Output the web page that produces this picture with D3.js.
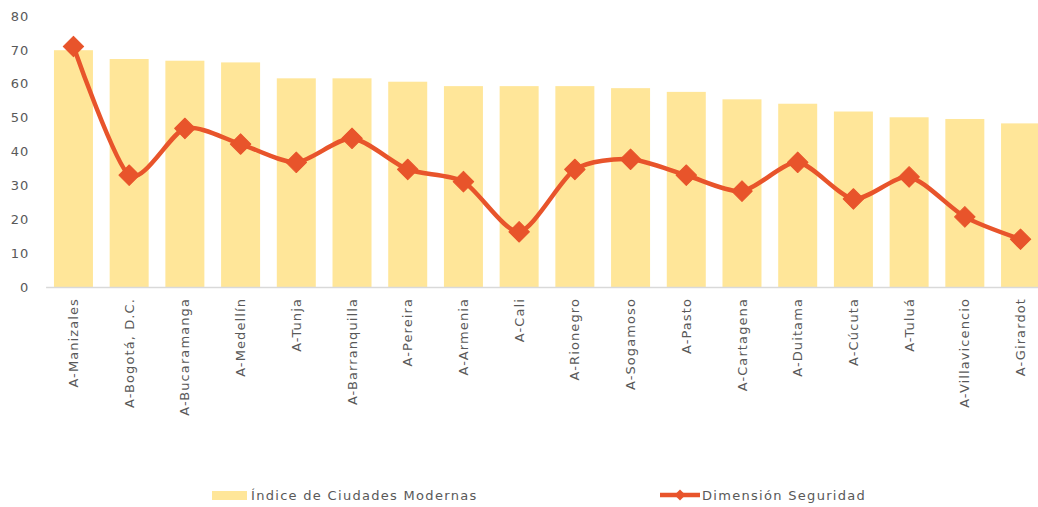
<!DOCTYPE html>
<html>
<head>
<meta charset="utf-8">
<script src="https://cdn.jsdelivr.net/npm/d3@7"></script>
<style>
  html, body { margin: 0; padding: 0; background: #fff; }
  svg { display: block; font-family: "DejaVu Sans", Verdana, sans-serif; }
</style>
</head>
<body>
<svg id="chart" width="1038" height="507"></svg>
<script>
const categories = ["A-Manizales", "A-Bogotá, D.C.", "A-Bucaramanga", "A-Medellín", "A-Tunja", "A-Barranquilla", "A-Pereira", "A-Armenia", "A-Cali", "A-Rionegro", "A-Sogamoso", "A-Pasto", "A-Cartagena", "A-Duitama", "A-Cúcuta", "A-Tuluá", "A-Villavicencio", "A-Girardot"];
const indiceCiudades = [69.9, 67.3, 66.8, 66.3, 61.6, 61.6, 60.6, 59.3, 59.3, 59.3, 58.7, 57.6, 55.4, 54.1, 51.8, 50.1, 49.6, 48.3];
const dimensionSeguridad = [71.0, 33.0, 46.8, 42.2, 36.8, 43.9, 34.7, 31.1, 16.3, 34.7, 37.7, 33.0, 28.3, 36.8, 26.0, 32.5, 20.7, 14.1];
const yTicks = [0, 10, 20, 30, 40, 50, 60, 70, 80];
const seriesNames = ["Índice de Ciudades Modernas", "Dimensión Seguridad"];

const barColor = "#FFE699";
const lineColor = "#E8542B";
const textColor = "#595959";

const svg = d3.select("#chart");

const x = d3.scaleBand().domain(categories).range([45.6, 1048.4]).paddingInner(0.3).paddingOuter(0.15);
const y = d3.scaleLinear().domain([0, 80]).range([287, 16]);

// bars
svg.append("g").selectAll("rect").data(categories).join("rect")
  .attr("x", d => x(d))
  .attr("width", x.bandwidth())
  .attr("y", (d, i) => y(indiceCiudades[i]))
  .attr("height", (d, i) => y(0) - y(indiceCiudades[i]))
  .attr("fill", barColor);

// y axis (labels only)
const yAxis = d3.axisLeft(y).tickValues(yTicks).tickSize(0).tickPadding(0);
const gy = svg.append("g").attr("transform", "translate(29,0)").call(yAxis);
gy.select(".domain").remove();
gy.selectAll("text").attr("fill", textColor).style("font-size", "13px")
  .style("font-family", "DejaVu Sans, sans-serif").style("letter-spacing", "0.8px");

// x axis
const xAxis = d3.axisBottom(x).tickSize(0).tickPadding(0);
const gx = svg.append("g").attr("transform", `translate(0,${y(0)})`).call(xAxis);
gx.select(".domain").attr("stroke", "#D9D9D9").attr("stroke-width", 1.3);
gx.selectAll(".tick text")
  .attr("fill", textColor)
  .style("font-size", "13px")
  .style("font-family", "DejaVu Sans, sans-serif")
  .style("letter-spacing", "1.1px")
  .attr("text-anchor", "end")
  .attr("transform", "rotate(-90)")
  .attr("x", -11)
  .attr("y", 0)
  .attr("dy", "0.35em");

// line
const cx = d => x(d) + x.bandwidth() / 2;
const line = d3.line()
  .x((d, i) => cx(categories[i]))
  .y(d => y(d))
  .curve(d3.curveCardinal.tension(0.25));

svg.append("path")
  .datum(dimensionSeguridad)
  .attr("d", line)
  .attr("fill", "none")
  .attr("stroke", lineColor)
  .attr("stroke-width", 4.5)
  .attr("stroke-linejoin", "round")
  .attr("stroke-linecap", "round");

const marker = d3.symbol().type(d3.symbolSquare).size(210);
svg.append("g").selectAll("path").data(dimensionSeguridad).join("path")
  .attr("d", marker)
  .attr("transform", (d, i) => `translate(${cx(categories[i])},${y(d)}) rotate(45)`)
  .attr("fill", lineColor)
  .attr("stroke", lineColor)
  .attr("stroke-width", 1)
  .attr("stroke-linejoin", "round");

// legend
const leg = svg.append("g");
leg.append("rect").attr("x", 212).attr("y", 491).attr("width", 35).attr("height", 9).attr("fill", barColor);
leg.append("text").attr("x", 251).attr("y", 500).text(seriesNames[0])
  .attr("fill", textColor).style("font-size", "13px").style("letter-spacing", "1.3px");

leg.append("line").attr("x1", 660).attr("x2", 700).attr("y1", 495).attr("y2", 495)
  .attr("stroke", lineColor).attr("stroke-width", 4.5);
leg.append("path").attr("d", d3.symbol().type(d3.symbolSquare).size(60))
  .attr("transform", "translate(680,495) rotate(45)").attr("fill", lineColor);
leg.append("text").attr("x", 702).attr("y", 500).text(seriesNames[1])
  .attr("fill", textColor).style("font-size", "13px").style("letter-spacing", "1.3px");
</script>
</body>
</html>
